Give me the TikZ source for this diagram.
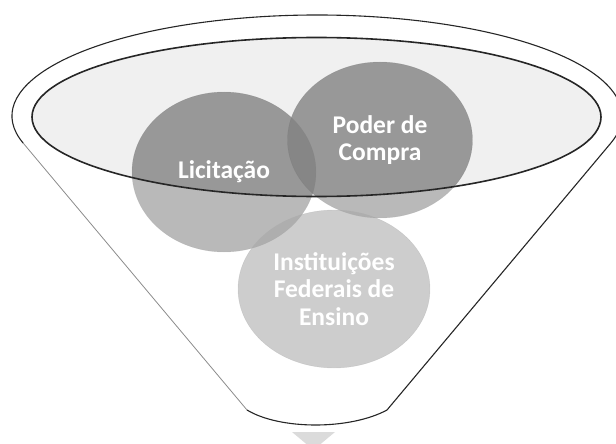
\documentclass[tikz,border=0pt]{standalone}
\usepackage{fontspec}
\setmainfont{Carlito}
\usepackage{tikz}
\usetikzlibrary{shapes}

\begin{document}
\begin{tikzpicture}[x=1pt,y=-1pt,
  ball/.style={ellipse,inner sep=0pt,align=center,text=white,text opacity=1,
    font=\bfseries\fontsize{25.5}{27.5}\selectfont,fill opacity=0.8,draw=black!55,draw opacity=0.3},
  rim/.style={line width=1.6pt,black!85}]
\useasboundingbox (0,0) rectangle (616,444);
\coordinate (tl) at (23.1,143);
\coordinate (br) at (387,410);
\coordinate (bl) at (247,410);

\fill[black!6] (316.5,117) ellipse [x radius=284.5,y radius=79.5];
\fill[black!14] (292,432) -- (335,432) -- (313.5,450) -- cycle;

\node[ball,fill=black!35,minimum width=192,minimum height=158] (ife) at (334,289) {Instituições\\Federais de\\Ensino};
\node[ball,fill=black!49,minimum width=184,minimum height=160] (lic) at (224,172) {Licitação};
\node[ball,fill=black!49,minimum width=185,minimum height=156] (poder) at (380,140) {Poder de\\Compra};

\fill[white,fill opacity=0.3,even odd rule]
  (tl) arc [start angle=164.5,end angle=375.5,x radius=305,y radius=101] -- (br)
  .. controls (350,430) and (280,430) .. (bl) -- cycle
  (316.5,117) ellipse [x radius=284.5,y radius=79.5];

\draw[black!45,line width=0.8pt] (bl) -- (tl);
\draw[black!85,line width=1.1pt] (tl) arc [start angle=164.5,end angle=375.5,x radius=305,y radius=101]
  -- (br) .. controls (350,430) and (280,430) .. (bl);
\draw[rim] (316.5,117) ellipse [x radius=284.5,y radius=79.5];
\end{tikzpicture}
\end{document}
